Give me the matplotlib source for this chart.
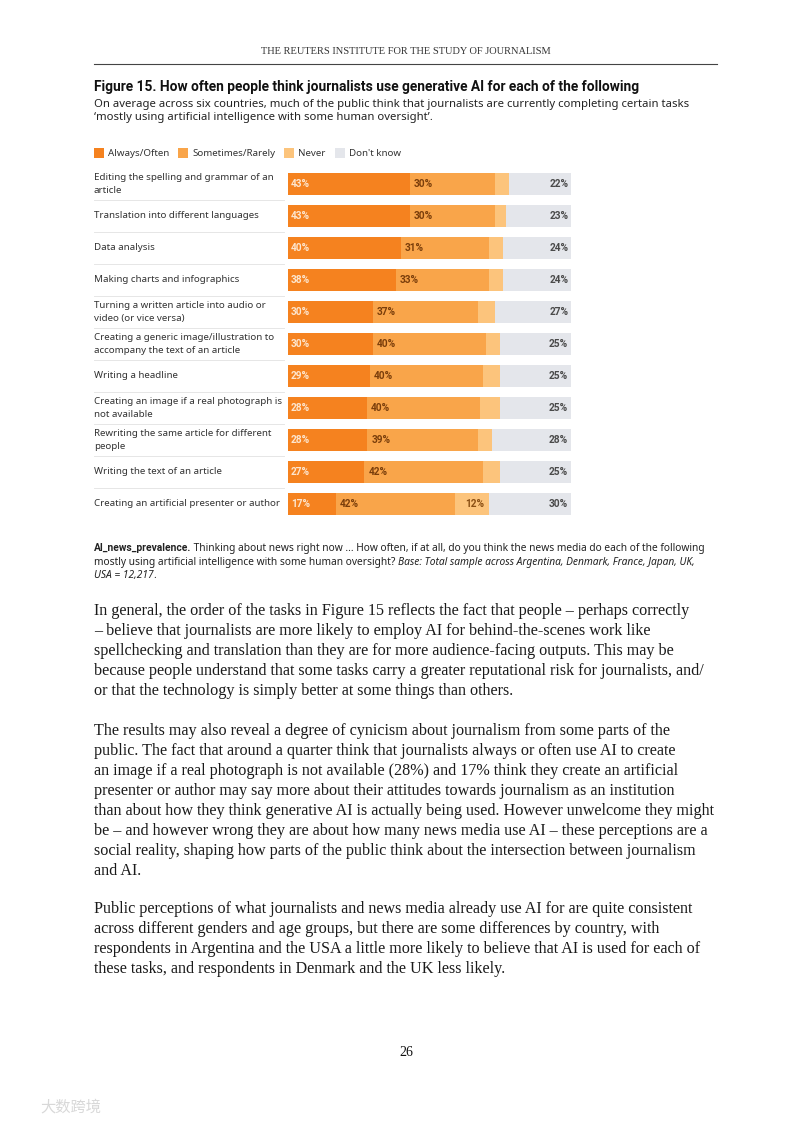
import matplotlib.pyplot as plt
from matplotlib.patches import Rectangle
from matplotlib.lines import Line2D
import matplotlib.transforms as mtransforms

# data
tasks = [
    "Editing the spelling and grammar of an\narticle",
    "Translation into different languages",
    "Data analysis",
    "Making charts and infographics",
    "Turning a written article into audio or\nvideo (or vice versa)",
    "Creating a generic image/illustration to\naccompany the text of an article",
    "Writing a headline",
    "Creating an image if a real photograph is\nnot available",
    "Rewriting the same article for different\npeople",
    "Writing the text of an article",
    "Creating an artificial presenter or author",
]
always = [43, 43, 40, 38, 30, 30, 29, 28, 28, 27, 17]
sometimes = [30, 30, 31, 33, 37, 40, 40, 40, 39, 42, 42]
never = [5, 4, 5, 5, 6, 5, 6, 7, 5, 6, 12]
dont_know = [22, 23, 24, 24, 27, 25, 25, 25, 28, 25, 30]
series_names = ["Always/Often", "Sometimes/Rarely", "Never", "Don't know"]

colors = ["#F5821F", "#F9A54A", "#FCC47C", "#E4E6EB"]
label_colors = ["#FDE6CF", "#7A3E0B", "#8A4F14", "#4A4A4A"]

W, H = 793, 1122
SANS = "Noto Sans"
BOLD = "Roboto"
SERIF = "Liberation Serif"


def fx(x):
    return x / W


def fy(y):
    return 1 - y / H


fig = plt.figure(figsize=(W / 100, H / 100), dpi=100)
renderer = fig.canvas.get_renderer()


def runs(x, y, parts, size, color="#222222", va="center"):
    # write several styled pieces of text one after another on one line
    for txt, weight, style in parts:
        fam = BOLD if weight == "bold" else SANS
        t = fig.text(fx(x), fy(y), txt, fontsize=size, family=fam,
                     weight=weight, style=style, color=color, va=va, ha="left")
        x += t.get_window_extent(renderer).width
    return x


# page header
fig.text(fx(406), fy(52), "THE REUTERS INSTITUTE FOR THE STUDY OF JOURNALISM",
         family=SERIF, fontsize=7.5, color="#333333", ha="center", va="center")
fig.add_artist(Line2D([fx(94), fx(717)], [fy(64), fy(64)], color="#444444", lw=0.8))

# title and subtitle
fig.text(fx(94), fy(91), "Figure 15. How often people think journalists use generative AI for each of the following",
         family=BOLD, weight="bold", fontsize=9.95, color="#111111", va="baseline")
fig.text(fx(94), fy(107), "On average across six countries, much of the public think that journalists are currently completing certain tasks",
         family=SANS, fontsize=8.15, color="#222222", va="baseline")
fig.text(fx(94), fy(120), "\u2018mostly using artificial intelligence with some human oversight\u2019.",
         family=SANS, fontsize=8.15, color="#222222", va="baseline")

# legend
lx = 94
for name, c in zip(series_names, colors):
    fig.add_artist(Rectangle((fx(lx), fy(158)), fx(10), 10 / H, color=c, lw=0))
    end = runs(lx + 14, 153, [(name, "normal", "normal")], 7.0, color="#333333")
    lx = end + 9

# bars
ax = fig.add_axes([fx(288), fy(520), fx(283), 352 / H])
ypos = list(range(len(tasks)))
lefts = [0] * len(tasks)
all_series = [always, sometimes, never, dont_know]
for k, (vals, c) in enumerate(zip(all_series, colors)):
    ax.barh(ypos, vals, left=lefts, height=0.69, color=c, lw=0)
    for i, v in enumerate(vals):
        if k == 0:
            ax.text(lefts[i] + 1.1, i, f"{v}%", color=label_colors[k], fontsize=7.3,
                    weight="bold", family=BOLD, va="center", ha="left")
        elif k == 1:
            ax.text(lefts[i] + 1.4, i, f"{v}%", color=label_colors[k], fontsize=7.3,
                    weight="bold", family=BOLD, va="center", ha="left")
        elif k == 2 and v >= 10:
            ax.text(lefts[i] + v - 1.5, i, f"{v}%", color=label_colors[k], fontsize=7.3,
                    weight="bold", family=BOLD, va="center", ha="right")
        elif k == 3:
            ax.text(99, i, f"{v}%", color=label_colors[k], fontsize=7.3,
                    weight="bold", family=BOLD, va="center", ha="right")
    lefts = [a + b for a, b in zip(lefts, vals)]

ax.set_xlim(0, 100)
ax.set_ylim(len(tasks) - 0.5, -0.5)
ax.axis("off")

# row labels and separators
blend = mtransforms.blended_transform_factory(fig.transFigure, ax.transData)
for i, t in enumerate(tasks):
    fig.text(fx(94), i, t, transform=blend, fontsize=7.0, family=SANS, color="#333333",
             va="center", ha="left", linespacing=1.45)
    if i < len(tasks) - 1:
        ax.add_line(Line2D([fx(94), fx(284)], [i + 0.5, i + 0.5], transform=blend,
                           color="#E6E6E6", lw=0.7, clip_on=False))

# footnote
fs = 7.35
runs(94, 551, [("AI_news_prevalence.", "bold", "normal"),
               (" Thinking about news right now ... How often, if at all, do you think the news media do each of the following", "normal", "normal")], fs, va="baseline")
runs(94, 564.5, [("mostly using artificial intelligence with some human oversight? ", "normal", "normal"),
                 ("Base: Total sample across Argentina, Denmark, France, Japan, UK,", "normal", "italic")], fs, va="baseline")
runs(94, 578, [("USA = 12,217", "normal", "italic"), (".", "normal", "normal")], fs, va="baseline")

# body text
paragraphs = [
    (611, [
        "In general, the order of the tasks in Figure 15 reflects the fact that people \u2013 perhaps correctly",
        "\u2013 believe that journalists are more likely to employ AI for behind-the-scenes work like",
        "spellchecking and translation than they are for more audience-facing outputs. This may be",
        "because people understand that some tasks carry a greater reputational risk for journalists, and/",
        "or that the technology is simply better at some things than others.",
    ]),
    (731, [
        "The results may also reveal a degree of cynicism about journalism from some parts of the",
        "public. The fact that around a quarter think that journalists always or often use AI to create",
        "an image if a real photograph is not available (28%) and 17% think they create an artificial",
        "presenter or author may say more about their attitudes towards journalism as an institution",
        "than about how they think generative AI is actually being used. However unwelcome they might",
        "be \u2013 and however wrong they are about how many news media use AI \u2013 these perceptions are a",
        "social reality, shaping how parts of the public think about the intersection between journalism",
        "and AI.",
    ]),
    (909, [
        "Public perceptions of what journalists and news media already use AI for are quite consistent",
        "across different genders and age groups, but there are some differences by country, with",
        "respondents in Argentina and the USA a little more likely to believe that AI is used for each of",
        "these tasks, and respondents in Denmark and the UK less likely.",
    ]),
]
for y0, lines in paragraphs:
    for j, line in enumerate(lines):
        fig.text(fx(94), fy(y0 + 20 * j), line, family=SERIF, fontsize=11.6,
                 color="#1a1a1a", va="center", ha="left")

fig.text(fx(406), fy(1052), "26", family=SERIF, fontsize=10, color="#111111",
         ha="center", va="center")

# watermark
fig.text(fx(40), fy(1107), "\u5927\u6570\u8de8\u5883", family=["Noto Sans CJK SC", "DejaVu Sans"],
         fontsize=11, color="#D8D8D8", va="center", ha="left")

fig.savefig("out.png", dpi=100)
